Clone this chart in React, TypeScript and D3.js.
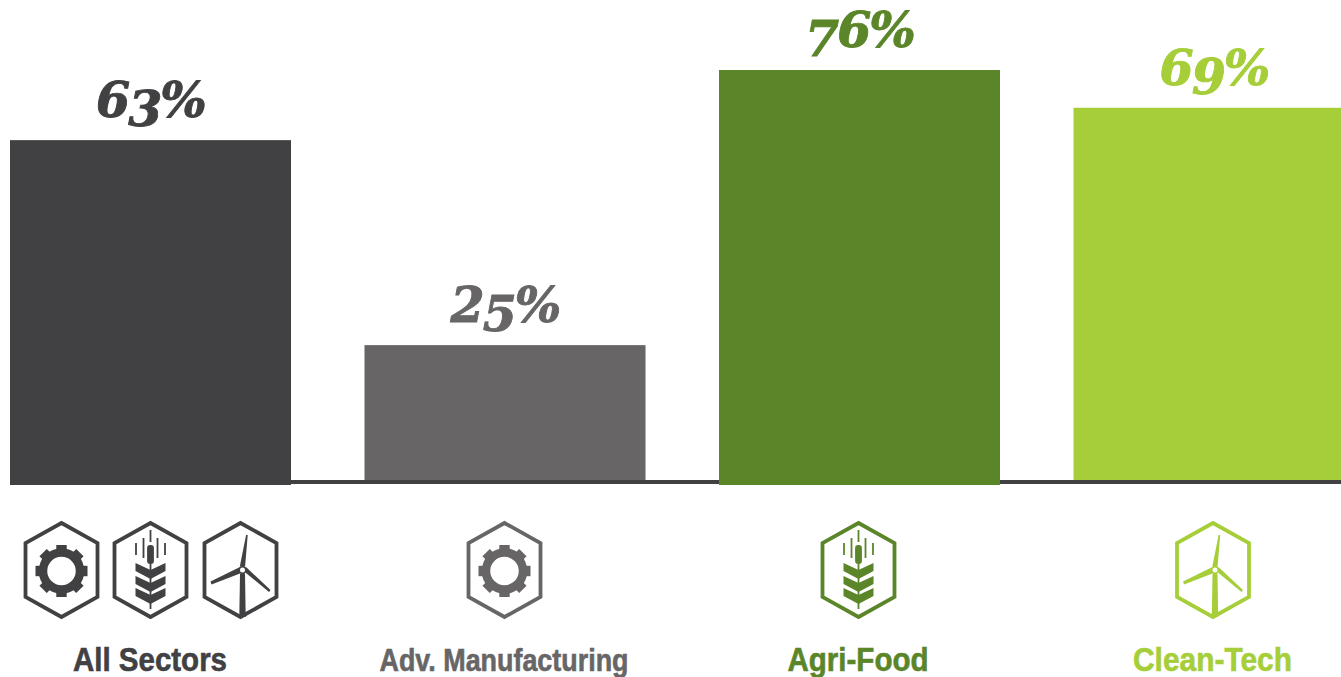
import React from "react";
import * as d3 from "d3";

const W = 1341;
const H = 677;
const categories = ["All Sectors", "Adv. Manufacturing", "Agri-Food", "Clean-Tech"];
const values = [63, 25, 76, 69];
const colors = ["#414042", "#676566", "#5a8529", "#a6ce39"];
const labelWidths = [154, 249, 141, 159];
const labelSizes = [33, 31, 33, 33];
const overhang = [5, 0, 5, 0];
const icons: string[][] = [["gear", "wheat", "turbine"], ["gear"], ["wheat"], ["turbine"]];
const iconOffsets: number[][] = [[-89, 0, 90], [0], [0], [0]];
const descending = ["3", "4", "5", "7", "9"];

const x = d3.scaleBand<string>().domain(categories).range([10, 1354.5]).paddingInner(0.2073).paddingOuter(0);
const y = d3.scaleLinear().domain([0, 76]).range([480, 70]);

function Hex({ c }: { c: string }) {
  const pts: [number, number][] = [[0, -47], [36, -27], [36, 27], [0, 47], [-36, 27], [-36, -27]];
  return <path d={d3.line()(pts) + "Z"} fill="none" stroke={c} strokeWidth={3.8} strokeLinejoin="miter" />;
}

function Gear({ c }: { c: string }) {
  const teeth = d3.range(8).map((i) => (i * 360) / 8);
  return (
    <g transform="translate(0,1)">
      <circle r={18.5} fill="none" stroke={c} strokeWidth={8.5} />
      {teeth.map((a) => (
        <rect key={a} x={-5.2} y={-26} width={10.4} height={6} fill={c} transform={`rotate(${a})`} />
      ))}
    </g>
  );
}

function Wheat({ c }: { c: string }) {
  const chevronTops = [-7, 6, 18];
  const thin = [[-14.5, -27, -15], [-7, -32, -12], [0, -40, -28], [7, -32, -12], [14.5, -27, -15]];
  return (
    <g>
      {thin.map(([lx, a, b], i) => (
        <line key={i} x1={lx} x2={lx} y1={a} y2={b} stroke={c} strokeWidth={1.8} />
      ))}
      <rect x={-3.4} y={-25} width={6.8} height={19} rx={3} fill={c} />
      <line x1={0} x2={0} y1={-6} y2={39} stroke={c} strokeWidth={1.8} />
      {chevronTops.map((t) => (
        <path key={t} d={`M-15,${t}L0,${t + 7}L15,${t}V${t + 8}L0,${t + 16}L-15,${t + 8}Z`} fill={c} />
      ))}
    </g>
  );
}

function Turbine({ c }: { c: string }) {
  return (
    <g transform="translate(2,0)">
      <circle r={3.4} fill="none" stroke={c} strokeWidth={1.8} />
      <path d="M-2.6,-4L3.6,-35L5.2,-35L2.6,-3.5Z" fill={c} />
      <path d="M-3.5,-2.5L-32,11.5L-31,14.5L-2.5,3.5Z" fill={c} />
      <path d="M3.5,3L26.5,22L28,20L3.5,-3Z" fill={c} />
      <path d="M-2.5,4L-3.2,47L3.2,47L2.5,4Z" fill={c} />
    </g>
  );
}

const iconMap: Record<string, (p: { c: string }) => React.ReactElement> = { gear: Gear, wheat: Wheat, turbine: Turbine };

function ValueLabel({ value, cx, baseY, c }: { value: number; cx: number; baseY: number; c: string }) {
  const chars = String(value).split("");
  let prev = 0;
  const spans = chars.map((ch, i) => {
    const drop = descending.includes(ch) ? 9 : 0;
    const dy = drop - prev;
    prev = drop;
    return (
      <tspan key={i} dy={dy}>
        {ch}
      </tspan>
    );
  });
  return (
    <text
      x={cx}
      y={baseY}
      textAnchor="middle"
      fontFamily="'DejaVu Serif', serif"
      fontWeight={700}
      fontStyle="italic"
      fontSize={49}
      letterSpacing={-2}
      fill={c}
      stroke={c}
      strokeWidth={0.9}
    >
      {spans}
      <tspan dy={-prev}>%</tspan>
    </text>
  );
}

export default function App() {
  return (
    <svg width={W} height={H} viewBox={`0 0 ${W} ${H}`} style={{ position: "fixed", left: 0, top: 0, background: "#fff" }}>
      <line x1={10} x2={W} y1={y(0) + 2} y2={y(0) + 2} stroke="#414042" strokeWidth={4} />
      {categories.map((cat, i) => {
        const bx = x(cat)!;
        const cx = bx + x.bandwidth() / 2;
        const c = colors[i];
        return (
          <g key={cat}>
            <rect x={bx} y={y(values[i])} width={x.bandwidth()} height={y(0) - y(values[i]) + overhang[i]} fill={c} />
            <ValueLabel value={values[i]} cx={cx} baseY={y(values[i]) - 23} c={c} />
            {icons[i].map((k, j) => {
              const Ico = iconMap[k];
              const ox = i === 0 ? 150.5 + iconOffsets[0][j] : i === 1 ? 504.5 : i === 2 ? 858.5 : 1213;
              return (
                <g key={k} transform={`translate(${ox},570)`}>
                  <Hex c={c} />
                  <Ico c={c} />
                </g>
              );
            })}
            <text
              x={i === 0 ? 150 : i === 1 ? 504 : i === 2 ? 858 : 1212.5}
              y={671}
              textAnchor="middle"
              fontFamily="'Liberation Sans Narrow', 'Liberation Sans', sans-serif"
              fontWeight={700}
              fontSize={labelSizes[i]}
              textLength={labelWidths[i]}
              lengthAdjust="spacingAndGlyphs"
              fill={c}
              stroke={c}
              strokeWidth={0.6}
            >
              {cat}
            </text>
          </g>
        );
      })}
    </svg>
  );
}
